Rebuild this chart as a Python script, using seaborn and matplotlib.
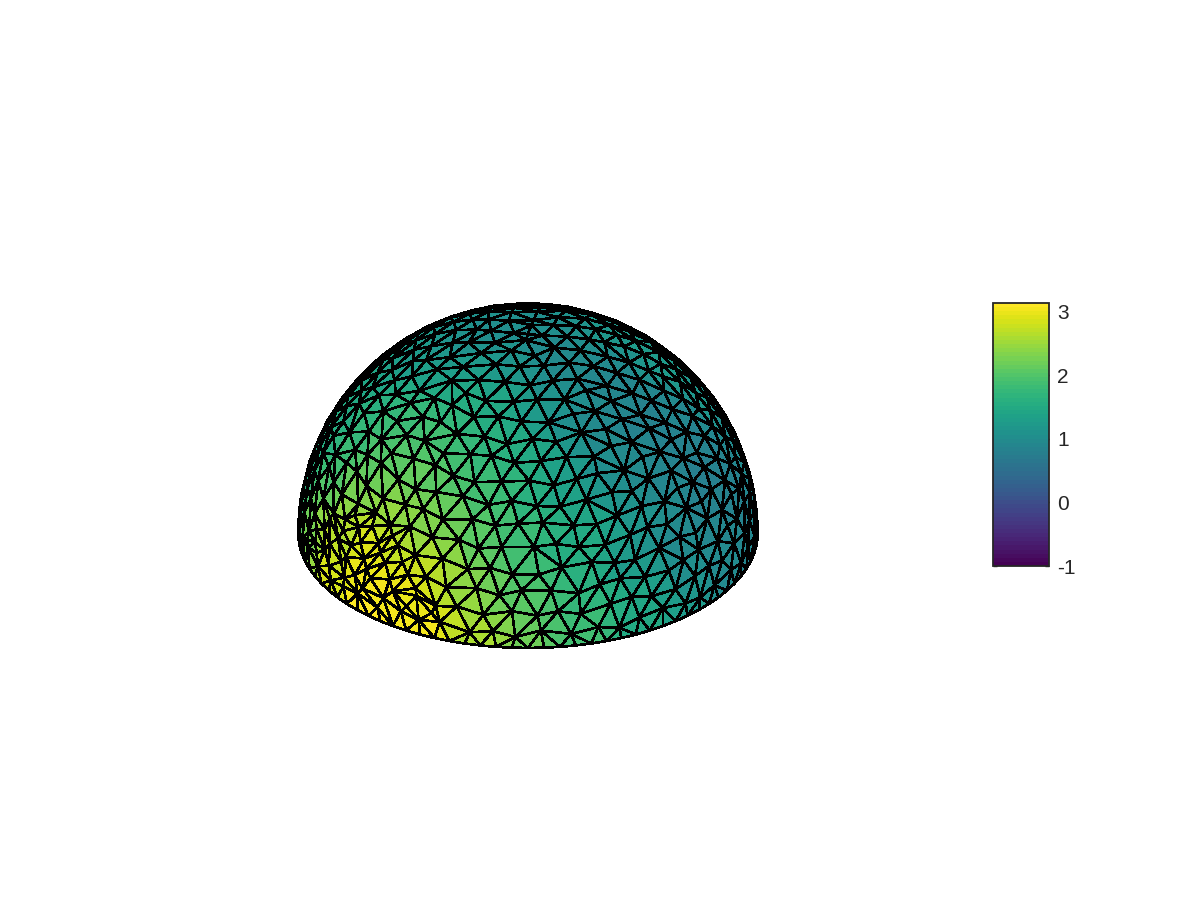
import numpy as np
import seaborn as sns
import matplotlib
matplotlib.use("Agg")
import matplotlib.pyplot as plt
import matplotlib.tri as mtri
from matplotlib.colors import Normalize
from matplotlib.cm import ScalarMappable
from mpl_toolkits.mplot3d.art3d import Poly3DCollection

# mesh rings on the hemisphere (latitude in degrees, number of nodes)
ring_lat = [0, 4, 9.5, 15, 20.5, 26, 31.5, 37, 42.5, 48, 53.5, 59, 64.5, 70, 75.5, 81, 86, 90]
ring_count = [90, 56, 56, 55, 53, 51, 48, 45, 42, 38, 34, 29, 24, 19, 14, 9, 4, 1]
# extra nodes where the mesh is finer, lower left of the dome
extra_lat = [6.7, 12.2, 17.8, 23.2]
extra_from = [-75, -70, -65, -55]
extra_to = [-25, -30, -35, -40]
extra_count = [8, 6, 5, 3]
# small offsets so the rings do not look regular
wobble_lat = [0.0, 1.5, -1.1, 0.6, -1.7, 1.0, 1.9, -0.5, -1.4, 0.3, 1.2, -0.9, 1.7]
wobble_rel = [0.0, -1.3, 1.6, 0.8, -0.6, 1.9, -1.7, 0.4, 1.1, -1.0, 0.2]
wobble_size = 0.55

# values, columns are the angle from the viewer
rel_angle = [-90, -75, -60, -45, -30, -15, 0, 15, 30, 45, 60, 75, 90]
lat_rows = [0, 10, 20, 30, 40, 50, 60, 70, 80, 90]
lat00 = [1.6, 2.3, 2.85, 3.1, 3.05, 2.6, 2.2, 1.85, 1.5, 1.2, 1.0, 0.9, 0.95]
lat10 = [1.6, 2.25, 2.8, 3.05, 2.95, 2.5, 2.1, 1.75, 1.4, 1.1, 0.95, 0.85, 0.9]
lat20 = [1.6, 2.05, 2.6, 2.85, 2.7, 2.3, 1.95, 1.6, 1.25, 1.0, 0.85, 0.85, 0.95]
lat30 = [1.55, 1.85, 2.25, 2.45, 2.35, 2.1, 1.8, 1.5, 1.15, 0.95, 0.8, 0.82, 1.0]
lat40 = [1.5, 1.75, 2.0, 2.15, 2.1, 1.9, 1.65, 1.35, 1.05, 0.9, 0.8, 0.85, 1.15]
lat50 = [1.35, 1.6, 1.8, 1.85, 1.85, 1.7, 1.5, 1.25, 1.0, 0.88, 0.85, 0.95, 1.25]
lat60 = [1.2, 1.4, 1.55, 1.6, 1.55, 1.45, 1.3, 1.15, 1.0, 0.9, 0.9, 1.0, 1.25]
lat70 = [1.1, 1.2, 1.3, 1.35, 1.35, 1.25, 1.15, 1.05, 0.95, 0.95, 0.95, 1.0, 1.15]
lat80 = [1.05, 1.1, 1.15, 1.15, 1.15, 1.1, 1.05, 1.0, 0.95, 0.95, 0.95, 1.0, 1.05]
lat90 = [1.0] * 13
cbar_ticks = [-1, 0, 1, 2, 3]
cbar_min = -1
cbar_max = 3.14

sns.set_theme(style="white")
plt.rcParams['font.family'] = ['Liberation Sans', 'DejaVu Sans']
plt.rcParams['axes.unicode_minus'] = False

table = np.array([lat00, lat10, lat20, lat30, lat40, lat50, lat60, lat70, lat80, lat90])
azim = -37.5
elev = 30

# build nodes ring by ring, each ring shifted a bit so the mesh is not regular
rel = []
lat = []
for i, (la, n) in enumerate(zip(ring_lat, ring_count)):
    shift = (i * 0.618 % 1) * 360 / n
    for k in range(n):
        rel.append((k * 360 / n + shift) % 360)
        if la == 0 or la == 90:
            lat.append(la)
        else:
            lat.append(la + wobble_size * wobble_lat[(k + i) % len(wobble_lat)])
            rel[-1] += wobble_size * wobble_rel[(2 * k + i) % len(wobble_rel)]
for la, a, b, n in zip(extra_lat, extra_from, extra_to, extra_count):
    for k in range(n):
        rel.append((a + (b - a) * k / (n - 1)) % 360)
        lat.append(la)
rel = np.array(rel)
lat = np.array(lat, dtype=float)
lon = np.deg2rad(rel + azim)
phi = np.deg2rad(lat)
x = np.cos(phi) * np.cos(lon)
y = np.cos(phi) * np.sin(lon)
z = np.sin(phi)

# triangles from a stereographic view of the nodes
tri = mtri.Triangulation(x / (1 + z), y / (1 + z))
pts = np.column_stack([x, y, z])
faces = pts[tri.triangles]

# node values from the table, the face takes the mean of its nodes
rel_wrapped = (rel + 180) % 360 - 180
col = np.abs(np.array(rel_angle)[None, :] - np.clip(rel_wrapped, -90, 90)[:, None]).argmin(axis=1)
row = np.abs(np.array(lat_rows)[None, :] - lat[:, None]).argmin(axis=1)
node_val = table[row, col]
face_val = node_val[tri.triangles].mean(axis=1)

# keep only faces turned to the viewer
view = np.array([np.cos(np.deg2rad(elev)) * np.cos(np.deg2rad(azim)),
                 np.cos(np.deg2rad(elev)) * np.sin(np.deg2rad(azim)),
                 np.sin(np.deg2rad(elev))])
keep = faces.mean(axis=1) @ view > -0.02

cmap = sns.color_palette("viridis", as_cmap=True).resampled(64)
norm = Normalize(cbar_min, cbar_max)

fig = plt.figure(figsize=(12, 9), dpi=100)
ax = fig.add_axes([(528 - 9.5 - 350) / 1200, (366 - 8.5 - 350) / 900, 700 / 1200, 700 / 900], projection='3d')
ax.set_proj_type('ortho')
ax.view_init(elev=elev, azim=azim)
ax.set_box_aspect((1, 1, 1), zoom=1.104)
ax.set_xlim(-1, 1)
ax.set_ylim(-1, 1)
ax.set_zlim(-1, 1)
ax.set_axis_off()
mesh = Poly3DCollection(faces[keep], facecolors=cmap(norm(face_val[keep])),
                        edgecolors='black', linewidths=1.2, antialiaseds=False)
ax.add_collection3d(mesh)

cax = fig.add_axes([993 / 1200, 1 - 566 / 900, 56 / 1200, 263 / 900])
cb = fig.colorbar(ScalarMappable(norm=norm, cmap=cmap), cax=cax)
cb.set_ticks(cbar_ticks)
cb.outline.set_edgecolor('#262626')
cb.outline.set_linewidth(1.3)
cax.tick_params(axis='y', which='major', direction='in', left=True, right=True, length=3,
                width=1, color='#262626', labelcolor='#262626', labelsize=15, pad=6)

fig.savefig("out.png", dpi=100, facecolor='white')
